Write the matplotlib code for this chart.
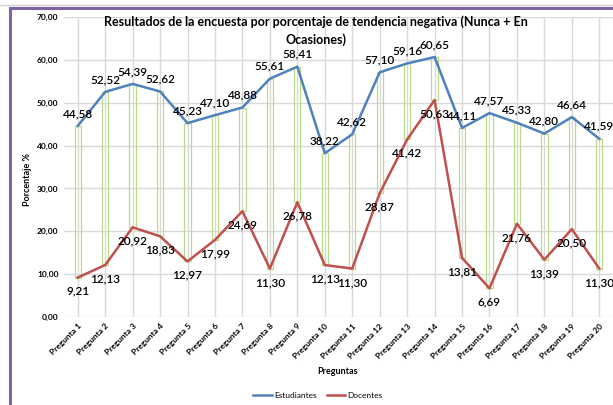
import matplotlib
matplotlib.use("Agg")
from matplotlib import pyplot as plt
from matplotlib.lines import Line2D
from matplotlib.patches import Rectangle
import numpy as np

preguntas = ["Pregunta {}".format(i) for i in range(1, 21)]
estudiantes = [44.58, 52.52, 54.39, 52.62, 45.23, 47.10, 48.88, 55.61, 58.41, 38.22,
               42.62, 57.10, 59.16, 60.65, 44.11, 47.57, 45.33, 42.80, 46.64, 41.59]
docentes = [9.21, 12.13, 20.92, 18.83, 12.97, 17.99, 24.69, 11.30, 26.78, 12.13,
            11.30, 28.87, 41.42, 50.63, 13.81, 6.69, 21.76, 13.39, 20.50, 11.30]

BLUE = "#4F81BD"
RED = "#C0504D"
GREEN = "#B9DA86"
GRID = "#D9D9D9"

plt.rcParams["font.family"] = ["Lato", "DejaVu Sans"]

fig = plt.figure(figsize=(6.13, 4.05), dpi=100)
ax = fig.add_axes([64 / 613, 1 - 317 / 405, 1 - 64 / 613, (317 - 17) / 405])

x = np.arange(len(preguntas))
ax.set_xlim(-0.5, len(preguntas) - 0.5)
ax.set_ylim(0, 70)

# high-low bars
w = 0.23
for xi, e, d in zip(x, estudiantes, docentes):
    lo, hi = min(e, d), max(e, d)
    ax.add_patch(Rectangle((xi - w / 2, lo), w, hi - lo, fill=False,
                           edgecolor=GREEN, linewidth=0.9, zorder=2))

ax.plot(x, estudiantes, color=BLUE, linewidth=1.8, label="Estudiantes", zorder=3)
ax.plot(x, docentes, color=RED, linewidth=1.8, label="Docentes", zorder=3)

fmt = lambda v: "{:.2f}".format(v).replace(".", ",")
for xi, e, d in zip(x, estudiantes, docentes):
    ax.annotate(fmt(e), (xi, e), xytext=(0, 5), textcoords="offset points",
                ha="center", va="bottom", fontsize=8.5, fontweight="semibold",
                color="black", zorder=4)
    ax.annotate(fmt(d), (xi, d), xytext=(0, -6), textcoords="offset points",
                ha="center", va="top", fontsize=8.5, fontweight="semibold",
                color="black", zorder=4)

ax.set_yticks(np.arange(0, 71, 10))
ax.set_yticklabels([fmt(v) for v in range(0, 71, 10)], fontsize=6, fontweight="bold")
ax.set_xticks(x)
ax.set_xticklabels(preguntas, rotation=45, ha="right", rotation_mode="anchor",
                   fontsize=6, fontweight="bold")
ax.tick_params(length=0, pad=4)
ax.grid(True, color=GRID, linewidth=1, zorder=0)
ax.set_axisbelow(True)
for s in ax.spines.values():
    s.set_visible(False)

fig.text(28 / 613, 1 - 180 / 405, "Porcentaje %", rotation=90, ha="center", va="center",
         fontsize=6.5, fontweight="bold")
fig.text(338 / 613, 1 - 372 / 405, "Preguntas", ha="center", va="center",
         fontsize=6.5, fontweight="bold")
fig.text(0.515, 1 - 22 / 405, "Resultados de la encuesta por porcentaje de tendencia negativa (Nunca + En",
         ha="center", va="center", fontsize=9, fontweight="bold")
fig.text(0.515, 1 - 40 / 405, "Ocasiones)", ha="center", va="center",
         fontsize=9, fontweight="bold")

fig.legend(loc="center", bbox_to_anchor=(318 / 613, 1 - 395 / 405), ncol=2, frameon=False,
           fontsize=6, handlelength=2.2, columnspacing=1.2, handletextpad=0.3)

# purple chart frame
fig.add_artist(Line2D([0, 1], [1 - 5 / 405] * 2, color="#D0D0D0", linewidth=1))
fig.add_artist(Line2D([10 / 613, 1], [1 - 8 / 405] * 2, color="#8064A2", linewidth=2.2))
fig.add_artist(Line2D([10 / 613] * 2, [0, 1 - 8 / 405], color="#8064A2", linewidth=2.2))

fig.savefig("out.png", dpi=100)
